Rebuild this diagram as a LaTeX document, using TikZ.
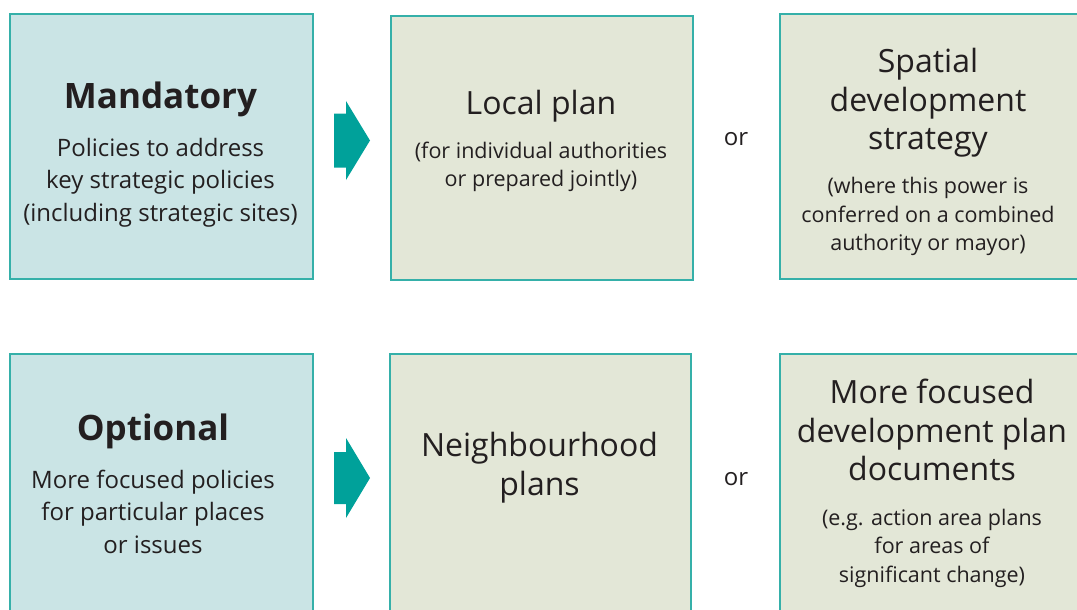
\documentclass[tikz,border=0pt]{standalone}
\usepackage{fontspec}
\setmainfont{Open Sans}

\definecolor{tealline}{HTML}{35B0A9}
\definecolor{bluebox}{HTML}{CAE4E5}
\definecolor{greenbox}{HTML}{E3E7D7}
\definecolor{arrowteal}{HTML}{00A19A}
\definecolor{inktext}{HTML}{231F20}

\newcommand{\headfont}{\fontsize{35}{42}\selectfont\bfseries}
\newcommand{\titlefont}{\fontsize{32}{38.5}\selectfont}
\newcommand{\bodyfont}{\fontsize{24}{32.5}\selectfont}
\newcommand{\subfont}{\fontsize{21.5}{28.5}\selectfont}

\begin{document}
\begin{tikzpicture}
	[x=1pt, y=-1pt, inner sep=0pt, text=inktext,
	kind/.style = {draw=tealline, line width=1.6pt, fill=bluebox},
	plan/.style = {draw=tealline, line width=1.6pt, fill=greenbox},
	label/.style = {align=center},
	pointer/.style = {fill=arrowteal}]
	\clip (0,0) rectangle (1077,610);
	% top row
	\node[kind, anchor=north west, minimum width=303pt, minimum height=265pt] (mand) at (9,13) {};
	\node[plan, anchor=north west, minimum width=302pt, minimum height=264pt] (local) at (390,15) {};
	\node[plan, anchor=north west, minimum width=320pt, minimum height=265pt] (sds) at (779,13) {};
	% bottom row
	\node[kind, anchor=north west, minimum width=303pt, minimum height=270pt] (opt) at (9,353) {};
	\node[plan, anchor=north west, minimum width=301pt, minimum height=270pt] (neigh) at (389,353) {};
	\node[plan, anchor=north west, minimum width=320pt, minimum height=270pt] (focus) at (779,353) {};
	% texts
	\node[label, font=\headfont, anchor=base] (mandhead) at (160.5,109) {Mandatory};
	\node[label, font=\bodyfont] (mandtext) at (160.5,182.5) {Policies to address\\key strategic policies\\(including strategic sites)};
	\node[label, font=\titlefont, anchor=base] (localhead) at (541,114) {Local plan};
	\node[label, font=\subfont] (localtext) at (541,167) {(for individual authorities\\or prepared jointly)};
	\node[font=\bodyfont, anchor=base] (or1) at (736,146) {or};
	\node[label, font=\titlefont] (sdshead) at (928,103) {Spatial\\development\\strategy};
	\node[label, font=\subfont] (sdstext) at (928,216.5) {(where this power is\\conferred on a combined\\authority or mayor)};
	\node[label, font=\headfont, anchor=base] (opthead) at (153,440) {Optional};
	\node[label, font=\bodyfont] (opttext) at (153,511.5) {More focused policies\\for particular places\\or issues};
	\node[label, font=\titlefont] (neighhead) at (539.5,467.5) {Neighbourhood\\plans};
	\node[font=\bodyfont, anchor=base] (or2) at (736,485) {or};
	\node[label, font=\titlefont] (focushead) at (932,430) {More focused\\development plan\\documents};
	\node[label, font=\subfont] (focustext) at (932,548) {(e.g. action area plans\\for areas of\\significant change)};
	% arrows
	\coordinate (arr1) at (334,140.5);
	\coordinate (arr2) at (334,478);
	\fill[pointer] (arr1) ++(0,-27) -- ++(12,0) -- ++(0,-12.5) -- ++(24,39.5) -- ++(-24,39.5) -- ++(0,-12.5) -- ++(-12,0) -- cycle;
	\fill[pointer] (arr2) ++(0,-26) -- ++(12,0) -- ++(0,-14) -- ++(24,40) -- ++(-24,40) -- ++(0,-14) -- ++(-12,0) -- cycle;
\end{tikzpicture}
\end{document}
